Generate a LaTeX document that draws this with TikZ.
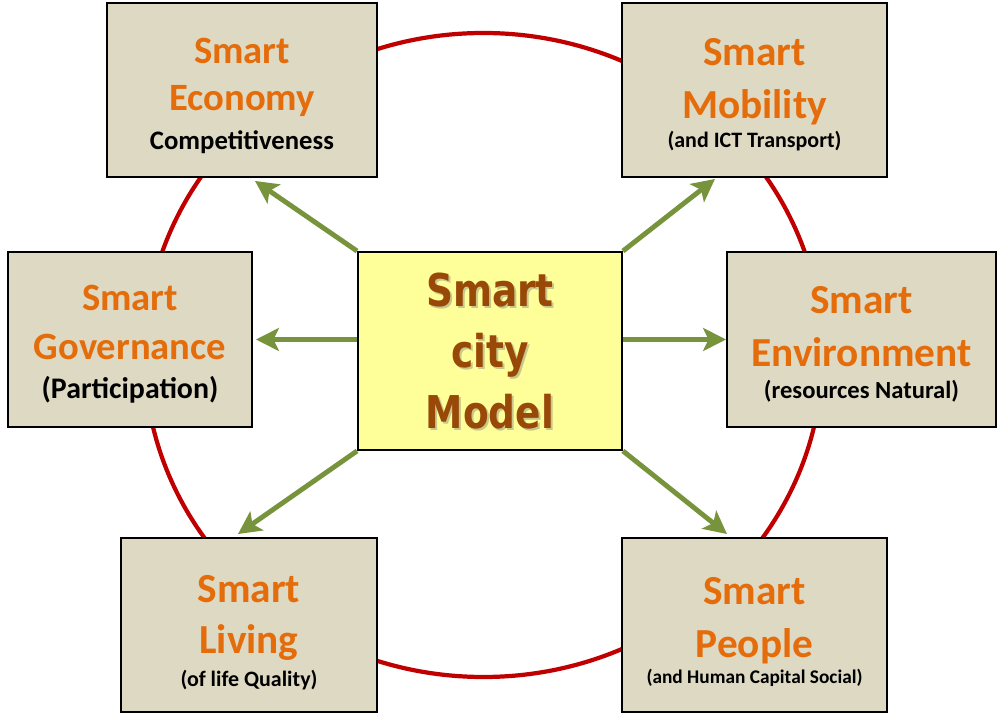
\documentclass[tikz,border=0pt]{standalone}
\usepackage{fontspec}
\setmainfont{Carlito}
\newfontfamily\hubfont[FakeStretch=0.83]{DejaVu Sans}
\usetikzlibrary{calc, arrows.meta}
\definecolor{pillarfill}{HTML}{DDD9C3}
\definecolor{hubfill}{HTML}{FFFF99}
\definecolor{smartorange}{HTML}{E46C0A}
\definecolor{hubbrown}{HTML}{984807}
\definecolor{hubshade}{RGB}{200,200,140}
\definecolor{spokegreen}{HTML}{77933C}
\definecolor{ringred}{HTML}{C00000}
\newcommand{\subline}[2]{\textcolor{black}{\fontsize{#1}{#1}\selectfont #2}}
\pgfdeclarelayer{back}
\pgfsetlayers{back,main}
\tikzset{
  pillar/.style={draw=black, line width=1.1pt, fill=pillarfill, inner sep=0pt},
  pillartext/.style={align=center, inner sep=0pt, text=smartorange},
  hubtext/.style={align=center, inner sep=0pt, font=\hubfont\bfseries\fontsize{25.7}{34.6}\selectfont},
  spoke/.style={spokegreen, line width=2.8pt, -{Stealth[length=13pt, width=13pt, inset=3pt]}},
}

\begin{document}
\begin{tikzpicture}[x=0.2mm, y=-0.2mm]
  \useasboundingbox (0,0) rectangle (997,716);
  \draw[ringred, line width=2.4pt] (483.5,355) ellipse (339 and 322);

  \node[pillar, minimum width=54mm, minimum height=34.8mm] (economy) at (242,90) {};
  \node[pillar, minimum width=53mm, minimum height=34.8mm] (mobility) at (754.5,90) {};
  \node[pillar, minimum width=48.8mm, minimum height=35mm] (governance) at (130,339.5) {};
  \node[pillar, minimum width=53.8mm, minimum height=35mm] (environment) at (861.5,339.5) {};
  \node[pillar, minimum width=51.2mm, minimum height=34.8mm] (living) at (249,625) {};
  \node[pillar, minimum width=53mm, minimum height=34.8mm] (people) at (754.5,625) {};

  \node[pillartext, font=\bfseries\fontsize{22}{26.6}\selectfont] (economylabel) at ($(economy)+(0,6)$)
    {Smart\\Economy\\[-4pt]\subline{15.2}{Competitiveness}};
  \node[pillartext, font=\bfseries\fontsize{23.5}{30}\selectfont] (mobilitylabel) at ($(mobility)+(0,5)$)
    {Smart\\Mobility\\[-13.5pt]\subline{12.5}{(and ICT Transport)}};
  \node[pillartext, font=\bfseries\fontsize{22}{27.5}\selectfont] (governancelabel) at ($(governance)+(0,5)$)
    {Smart\\Governance\\[-5pt]\subline{17}{(Participation)}};
  \node[pillartext, font=\bfseries\fontsize{23.5}{30}\selectfont] (environmentlabel) at ($(environment)+(0,5)$)
    {Smart\\Environment\\[-11.5pt]\subline{14}{(resources Natural)}};
  \node[pillartext, font=\bfseries\fontsize{23.5}{29}\selectfont] (livinglabel) at ($(living)+(0,8)$)
    {Smart\\Living\\[-10pt]\subline{12.5}{(of life Quality)}};
  \node[pillartext, font=\bfseries\fontsize{23.5}{30.5}\selectfont] (peoplelabel) at ($(people)+(0,7)$)
    {Smart\\People\\[-15.5pt]\subline{11}{(and Human Capital Social)}};

  % centre box, text with a soft shadow
  \node[draw=black, line width=1.1pt, fill=hubfill, minimum width=52.8mm, minimum height=39.6mm] (model) at (490,351) {};
  \node[hubtext, text=hubshade] (modelshade) at ($(model)+(2,2)$) {Smart\\city\\Model};
  \node[hubtext, text=hubbrown] (modellabel) at (model) {Smart\\city\\Model};

  \begin{pgfonlayer}{back}
    \draw[spoke] (model.north west) -- ($(economy.south)+(13,3)$);
    \draw[spoke] (model.north east) -- ($(mobility.south)+(-39.5,1)$);
    \draw[spoke] (model.west |- governance.east) -- ($(governance.east)+(3,0)$);
    \draw[spoke] (model.east |- environment.west) -- (environment.west);
    \draw[spoke] (model.south west) -- ($(living.north)+(-11,-3)$);
    \draw[spoke] (model.south east) -- ($(people.north)+(-27.5,-3)$);
  \end{pgfonlayer}
\end{tikzpicture}
\end{document}
